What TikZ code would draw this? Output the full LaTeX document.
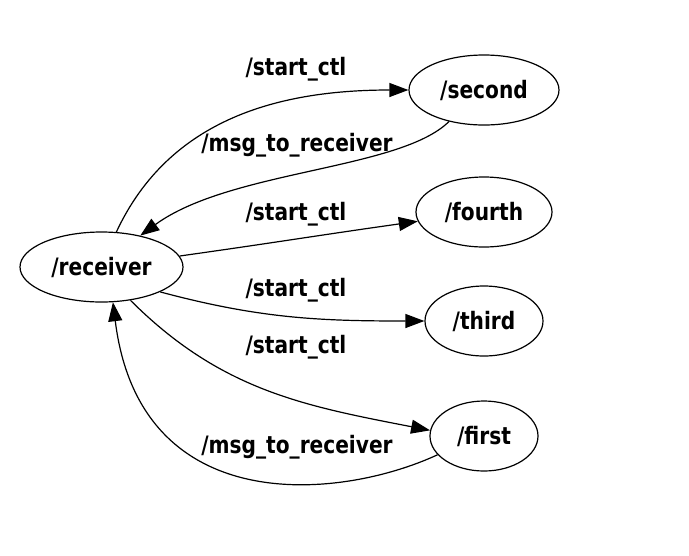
\documentclass[tikz,border=0pt]{standalone}
\usepackage{fontspec}
\setmainfont{DejaVu Sans}
\newfontfamily\graphfont[FakeStretch=0.84]{DejaVu Sans}
\usetikzlibrary{arrows.meta, shapes.geometric}

\begin{document}
\begin{tikzpicture}[
    x=1pt, y=-1pt,
    topic/.style = {ellipse, draw=black, line width=1.2pt, inner sep=0pt,
                    minimum height=70pt, font=\graphfont\fontsize{24}{28}\selectfont\bfseries},
    lbl/.style   = {font=\graphfont\fontsize{24}{28}\selectfont\bfseries, inner sep=1pt},
    pub/.style   = {-{Triangle[length=19pt, width=14pt]}, line width=1.2pt},
]

\useasboundingbox (0,0) rectangle (689,555);

%% ---- Nodes ----

\node[topic, minimum width=163pt] (receiver) at (101.5,267) {/receiver};
\node[topic, minimum width=150pt] (second)   at (484,90)    {/second};
\node[topic, minimum width=136pt] (fourth)   at (484,212)   {/fourth};
\node[topic, minimum width=118pt] (third)    at (484,321)   {/third};
\node[topic, minimum width=108pt] (first)    at (484,436)   {/first};

%% ---- Edges ----

\draw[pub] (receiver.67) to[out=65, in=180] (second.west);
\draw[pub] (second.222) .. controls (400,170) and (230,170) .. (receiver.39);
\draw[pub] (receiver.8) to[out=8, in=188] (fourth.188);
\draw[pub] (receiver.-23) to[out=-15, in=180] (third.west);
\draw[pub] (receiver.-49) to[out=-45, in=169] (first.174);
\draw[pub] (first.202) .. controls (340,500) and (140,520) .. (receiver.-72);

%% ---- Edge labels ----

\node[lbl] (l1) at (296,69)  {/start\_ctl};
\node[lbl] (l2) at (297,145) {/msg\_to\_receiver};
\node[lbl] (l3) at (296,214) {/start\_ctl};
\node[lbl] (l4) at (296,290) {/start\_ctl};
\node[lbl] (l5) at (296,347) {/start\_ctl};
\node[lbl] (l6) at (297,447) {/msg\_to\_receiver};

\end{tikzpicture}
\end{document}
